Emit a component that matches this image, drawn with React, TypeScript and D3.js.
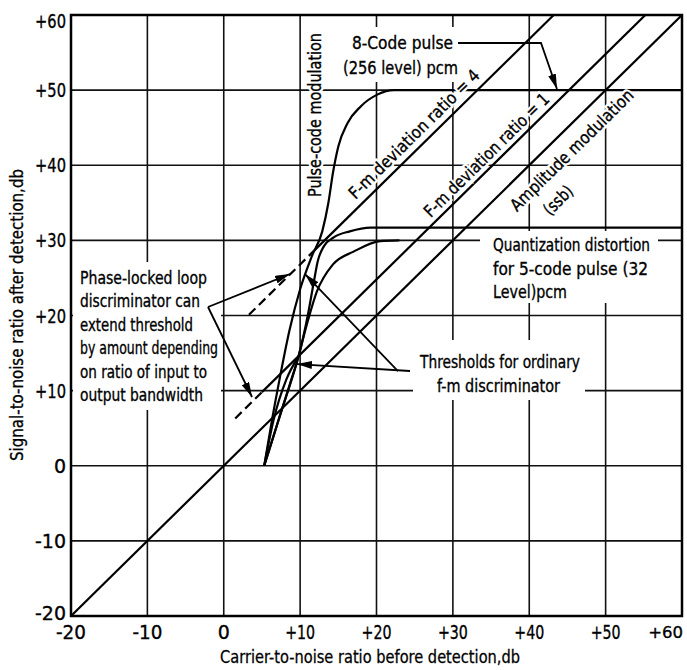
import * as d3 from "d3";

const W = 687;
const H = 670;

const xTicks = [-20, -10, 0, 10, 20, 30, 40, 50, 60];
const yTicks = [-20, -10, 0, 10, 20, 30, 40, 50, 60];
const xTickLabels = ["-20", "-10", "0", "+10", "+20", "+30", "+40", "+50", "+60"];
const yTickLabels = ["-20", "-10", "0", "+10", "+20", "+30", "+40", "+50", "+60"];

// straight characteristics (carrier-to-noise in, signal-to-noise out, db)
const amX = [-20, 60];
const amY = [-20, 60];
const fm1X = [5.0, 55.2];
const fm1Y = [9.8, 60];
const fm1DashX = [1.5, 5.0];
const fm1DashY = [6.3, 9.8];
const fm4X = [11.8, 43.2];
const fm4Y = [28.6, 60];
const fm4DashX = [3.3, 11.8];
const fm4DashY = [20.1, 28.6];

// threshold / pcm curves
const fm1KneeX = [5.3, 6.5, 8.2, 9.7];
const fm1KneeY = [0, 6, 11.5, 14.4];
const pcm8X = [5.3, 6.3, 7.4, 8.6, 10, 11.5, 12.9, 13.7, 14.3, 15, 16.2, 17.9, 20.1, 22.3, 25, 60];
const pcm8Y = [0, 6, 12, 18, 23.5, 27.8, 31.2, 35, 39, 42.5, 45.6, 47.8, 49.4, 50, 50, 50];
const pcm5X = [5.3, 7, 8.7, 9.8, 11, 11.8, 12.3, 13.1, 14.4, 16.5, 19.2, 60];
const pcm5Y = [0, 5.5, 11, 14.6, 20, 24.5, 27.2, 29.2, 30.4, 31.2, 31.7, 31.7];
const pcm5bX = [5.3, 7.3, 9.7, 10.8, 12.2, 14.3, 17, 20.5, 23];
const pcm5bY = [0, 6.5, 14.2, 18.5, 23.2, 26.8, 28.5, 29.9, 30];

const FONT = "'DejaVu Sans', 'Liberation Sans', sans-serif";

const zip = (xs: number[], ys: number[]) => xs.map((v, i) => [v, ys[i]]);

export default function App() {
  const x = d3.scaleLinear().domain([-20, 60]).range([71, 682]);
  const y = d3.scaleLinear().domain([-20, 60]).range([616, 15]);

  const straight = d3
    .line<number[]>()
    .x((d) => x(d[0]))
    .y((d) => y(d[1]));
  const smooth = d3
    .line<number[]>()
    .x((d) => x(d[0]))
    .y((d) => y(d[1]))
    .curve(d3.curveMonotoneX);

  const angle = (-Math.atan2(y(0) - y(1), x(1) - x(0)) * 180) / Math.PI;

  const block = (lines: string[], lens: number[], x0: number[], y0: number, step: number, key: string) =>
    lines.map((t, i) => (
      <text
        key={key + i}
        x={x0[i]}
        y={y0 + i * step}
        textLength={lens[i]}
        lengthAdjust="spacingAndGlyphs"
      >
        {t}
      </text>
    ));

  // rotated lettering: white halo copy first, then the ink
  const rotLabel = (t: string, dx: number, dy: number, len: number, rot: number) => {
    const common = {
      x: x(dx),
      y: y(dy),
      transform: `rotate(${rot},${x(dx)},${y(dy)})`,
      textAnchor: "middle" as const,
      dominantBaseline: "central" as const,
      textLength: len,
      lengthAdjust: "spacingAndGlyphs" as const,
    };
    return (
      <g>
        <text {...common} stroke="#fff" strokeWidth={5} fill="#fff">
          {t}
        </text>
        <text {...common}>{t}</text>
      </g>
    );
  };

  const curveStyle = { fill: "none", stroke: "#000", strokeWidth: 2.2 };
  const leader = { fill: "none", stroke: "#000", strokeWidth: 1.8 };

  return (
    <svg
      width={W}
      height={H}
      style={{ position: "absolute", left: 0, top: 0, background: "#fff" }}
      fontFamily={FONT}
    >
      <defs>
        <marker
          id="arr"
          markerUnits="userSpaceOnUse"
          markerWidth={15}
          markerHeight={8}
          refX={15}
          refY={4}
          orient="auto"
        >
          <path d="M0,0 L15,4 L0,8 Z" fill="#000" />
        </marker>
      </defs>
      <rect width={W} height={H} fill="#fff" />

      {/* grid */}
      <g stroke="#111" strokeWidth={1.6}>
        {xTicks.slice(1, -1).map((v) => (
          <line key={"gx" + v} x1={x(v)} x2={x(v)} y1={y(-20)} y2={y(60)} />
        ))}
        {yTicks.slice(1, -1).map((v) => (
          <line key={"gy" + v} y1={y(v)} y2={y(v)} x1={x(-20)} x2={x(60)} />
        ))}
      </g>

      {/* white boxes behind lettering */}
      <g fill="#fff">
        <rect x={338} y={27} width={125} height={55} />
        <rect x={73} y={262} width={148} height={148} />
        <rect x={480} y={231} width={178} height={72} />
        <rect x={413} y={340} width={172} height={60} />
      </g>

      {/* characteristics */}
      <path d={straight(zip(amX, amY)) || ""} {...curveStyle} />
      <path d={straight(zip(fm1X, fm1Y)) || ""} {...curveStyle} />
      <path d={straight(zip(fm4X, fm4Y)) || ""} {...curveStyle} />
      <path d={straight(zip(fm1DashX, fm1DashY)) || ""} {...curveStyle} strokeDasharray="9,5" />
      <path d={straight(zip(fm4DashX, fm4DashY)) || ""} {...curveStyle} strokeDasharray="9,5" />
      <path d={smooth(zip(fm1KneeX, fm1KneeY)) || ""} {...curveStyle} />
      <path d={smooth(zip(pcm8X, pcm8Y)) || ""} {...curveStyle} />
      <path d={smooth(zip(pcm5X, pcm5Y)) || ""} {...curveStyle} />
      <path d={smooth(zip(pcm5bX, pcm5bY)) || ""} {...curveStyle} />

      {/* frame */}
      <rect
        x={x(-20)}
        y={y(60)}
        width={x(60) - x(-20)}
        height={y(-20) - y(60)}
        fill="none"
        stroke="#000"
        strokeWidth={2.5}
      />

      {/* leaders */}
      <path d={straight([[30.67, 56.27], [41.54, 56.27], [43.63, 50.15]]) || ""} {...leader} markerEnd="url(#arr)" />
      <path d={straight([[-2.06, 21.13], [8.67, 25.52]]) || ""} {...leader} markerEnd="url(#arr)" />
      <path d={straight([[-2.06, 21.13], [3.7, 9.15]]) || ""} {...leader} markerEnd="url(#arr)" />
      <path d={straight([[24.39, 12.61], [9.59, 13.54]]) || ""} {...leader} markerEnd="url(#arr)" />
      <path d={straight([[22.81, 12.61], [10.64, 25.52]]) || ""} {...leader} markerEnd="url(#arr)" />

      {/* lettering */}
      <g fontSize={17} fill="#000" stroke="#000" strokeWidth={0.35}>
        {block(["8-Code pulse", "(256 level) pcm"], [101, 115], [352, 343], 49, 25, "c8")}
        {block(
          [
            "Phase-locked loop",
            "discriminator can",
            "extend threshold",
            "by amount depending",
            "on ratio of input to",
            "output bandwidth",
          ],
          [127, 120, 113, 138, 127, 123],
          [80, 80, 80, 80, 80, 80],
          284,
          23.4,
          "pll"
        )}
        {block(
          ["Quantization distortion", "for 5-code pulse (32", "Level)pcm"],
          [157, 155, 74],
          [493, 493, 493],
          251,
          23.5,
          "qd"
        )}
        {block(["Thresholds for ordinary", "f-m discriminator"], [160, 123], [420, 437], 368, 24, "th")}
        {rotLabel("F-m deviation ratio = 4", 24.91, 44.16, 176, angle)}
        {rotLabel("F-m deviation ratio = 1", 34.4, 41.36, 168, angle)}
        {rotLabel("Amplitude modulation", 45.56, 42.03, 165, angle)}
        {rotLabel("(ssb)", 43.77, 35.37, 34, angle)}
        {rotLabel("Pulse-code modulation", 11.95, 46.69, 164, -90)}
      </g>

      {/* tick labels */}
      <g fontSize={19} fill="#000" stroke="#000" strokeWidth={0.35}>
        {yTicks.map((v, i) => (
          <text
            key={"yl" + v}
            x={66}
            y={y(v) + (v === 60 ? 6 : v === -20 ? -3 : 0)}
            textAnchor="end"
            dominantBaseline="central"
            textLength={yTickLabels[i].length > 1 ? 31 : undefined}
            lengthAdjust="spacingAndGlyphs"
          >
            {yTickLabels[i]}
          </text>
        ))}
        {xTicks.map((v, i) =>
          v === 60 ? (
            <text
              key={"xl" + v}
              x={683}
              y={632}
              fontSize={16.5}
              textAnchor="end"
              dominantBaseline="central"
            >
              {xTickLabels[i]}
            </text>
          ) : (
            <text
              key={"xl" + v}
              x={x(v)}
              y={632}
              textAnchor="middle"
              dominantBaseline="central"
              textLength={xTickLabels[i].length > 1 ? 30 : undefined}
              lengthAdjust="spacingAndGlyphs"
            >
              {xTickLabels[i]}
            </text>
          )
        )}
      </g>

      {/* axis titles */}
      <g fontSize={17} fill="#000" stroke="#000" strokeWidth={0.3}>
        <text x={370} y={663} textAnchor="middle" textLength={300} lengthAdjust="spacingAndGlyphs">
          Carrier-to-noise ratio before detection,db
        </text>
        <text
          x={23}
          y={315}
          textAnchor="middle"
          transform="rotate(-90,23,315)"
          textLength={292}
          lengthAdjust="spacingAndGlyphs"
        >
          Signal-to-noise ratio after detection,db
        </text>
      </g>
    </svg>
  );
}
